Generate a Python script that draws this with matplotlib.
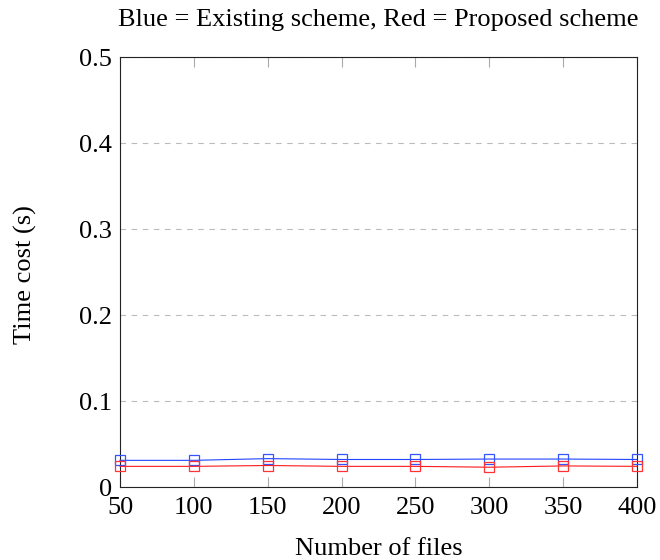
import matplotlib
matplotlib.use('Agg')
import matplotlib.pyplot as plt

files = [50, 100, 150, 200, 250, 300, 350, 400]
existing = [0.031, 0.031, 0.033, 0.032, 0.032, 0.0325, 0.0325, 0.032]
proposed = [0.024, 0.024, 0.025, 0.024, 0.024, 0.023, 0.0245, 0.024]
yticks = [0, 0.1, 0.2, 0.3, 0.4, 0.5]
ytick_labels = ['0', '0.1', '0.2', '0.3', '0.4', '0.5']

plt.rcParams['font.family'] = ['Liberation Serif', 'DejaVu Serif']

fig = plt.figure(figsize=(6.6, 5.6), dpi=100)
# axes box: x 120..637 px, y 57..487 px
ax = fig.add_axes([120 / 660, 73 / 560, 517 / 660, 430 / 560])

ax.plot(files, existing, color='#2244ff', lw=0.8, marker='s', ms=7,
        mfc='none', mec='#3355ff', mew=0.9, clip_on=False, zorder=3)
ax.plot(files, proposed, color='#ff1a1a', lw=0.8, marker='s', ms=7,
        mfc='none', mec='#ff3333', mew=0.9, clip_on=False, zorder=3)

ax.set_xlim(50, 400)
ax.set_ylim(0, 0.5)
ax.set_xticks(files)
ax.set_yticks(yticks)
ax.set_yticklabels(ytick_labels)
ax.yaxis.grid(True, ls=(0, (5, 5)), color='#bbbbbb', lw=0.8)
ax.tick_params(direction='in', top=True, right=False, labelsize=19,
               length=7, width=0.8, color='#aaaaaa')
ax.tick_params(axis='x', pad=7)
ax.tick_params(axis='y', length=0, pad=6)
for s in ax.spines.values():
    s.set_linewidth(0.8)
    s.set_color('#222222')

ax.set_xlabel('Number of files', fontsize=19, va='baseline')
ax.xaxis.set_label_coords(0.5, -0.158)
ax.set_ylabel('Time cost (s)', fontsize=19, va='center')
ax.yaxis.set_label_coords(-0.182, 0.493)
ax.set_title('Blue = Existing scheme, Red = Proposed scheme', fontsize=19,
             y=1.072, pad=0, va='baseline')

fig.savefig('out.png', dpi=100)
